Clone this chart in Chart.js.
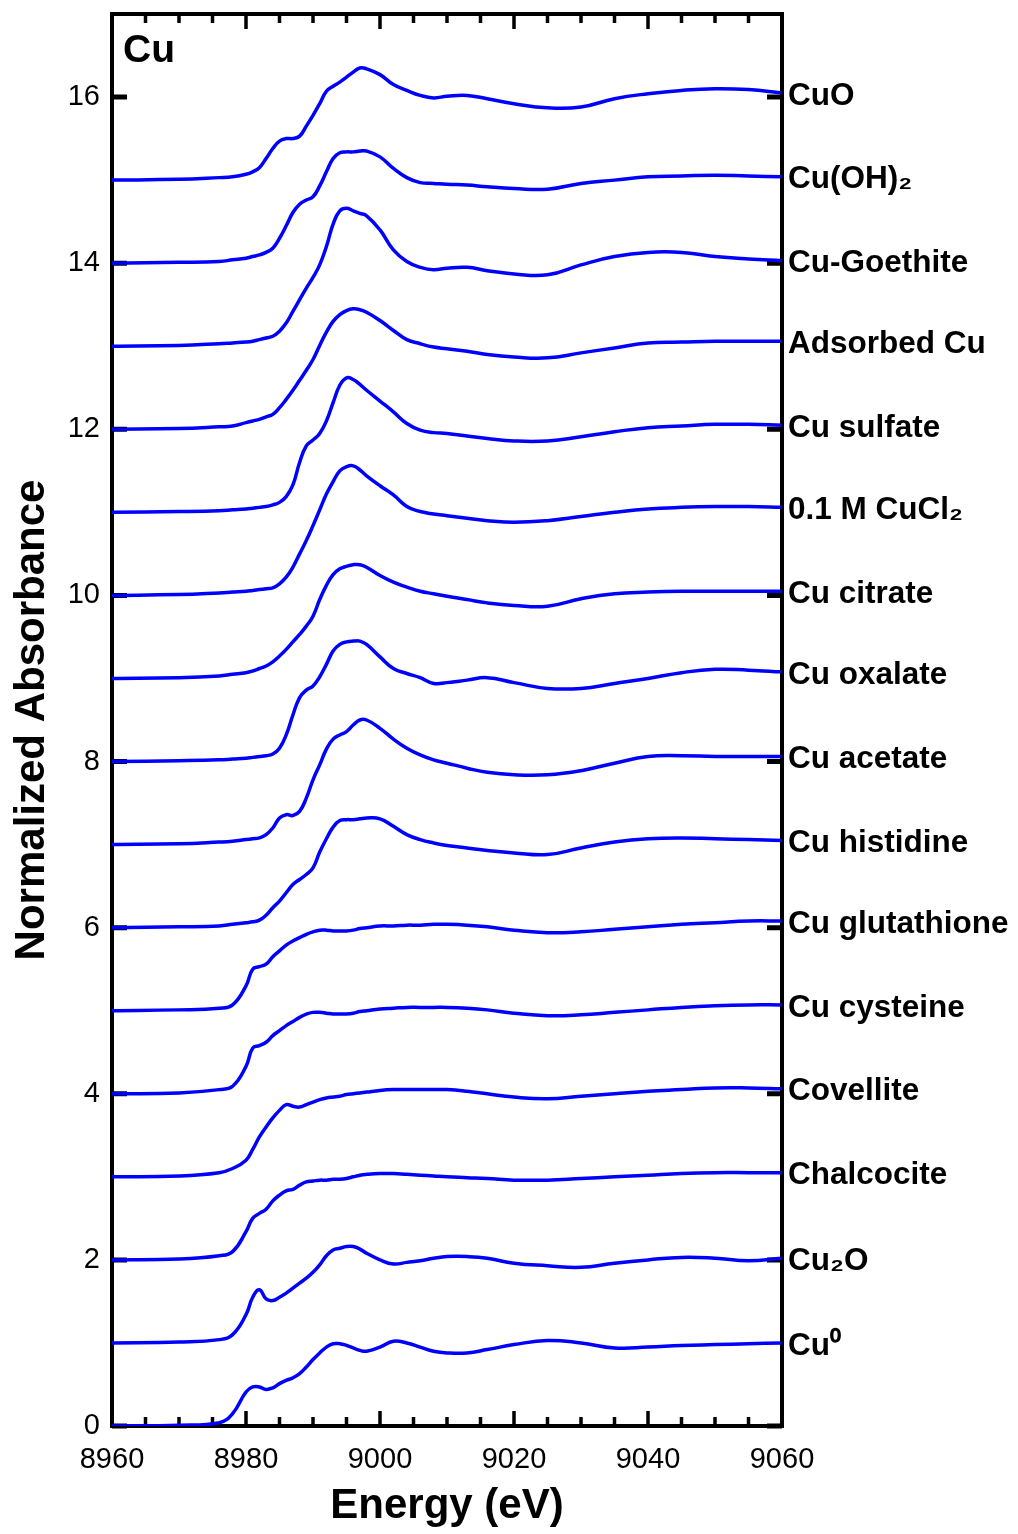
<!DOCTYPE html>
<html>
<head>
<meta charset="utf-8">
<title>Cu K-edge XANES</title>
<script src="https://cdn.jsdelivr.net/npm/chart.js@4.4.0/dist/chart.umd.min.js"></script>
<style>
  html, body { margin: 0; padding: 0; background: #fff; }
  #wrap { width: 1018px; height: 1534px; position: relative; }
</style>
</head>
<body>
<div id="wrap"><canvas id="xanes"></canvas></div>
<script>
// ——————————————————————————————
// Data (energy grid in eV, normalized absorbance without the stacking offset)
// ——————————————————————————————
const energy = [8960, 8970, 8976, 8978, 8980, 8981, 8982, 8983, 8984, 8985, 8986, 8987, 8988, 8989,
  8990, 8991, 8992, 8993, 8994, 8995, 8996, 8997, 8998, 9000, 9002, 9004, 9006, 9008, 9010,
  9013, 9016, 9020, 9025, 9030, 9035, 9040, 9045, 9050, 9055, 9060];

const cuMetal = [0, 0.01, 0.04, 0.15, 0.41, 0.47, 0.47, 0.44, 0.46, 0.51, 0.55, 0.58, 0.63, 0.71,
  0.80, 0.88, 0.95, 0.99, 0.99, 0.97, 0.94, 0.91, 0.90, 0.95, 1.02, 1.00, 0.95, 0.90, 0.88,
  0.88, 0.92, 0.98, 1.03, 1.00, 0.94, 0.95, 0.97, 0.98, 0.99, 1.00];
const cu2O = [0, 0.01, 0.04, 0.10, 0.34, 0.55, 0.64, 0.53, 0.51, 0.55, 0.60, 0.66, 0.72, 0.78,
  0.85, 0.94, 1.05, 1.12, 1.14, 1.16, 1.16, 1.13, 1.08, 1.00, 0.95, 0.97, 0.99, 1.02, 1.04,
  1.04, 1.02, 0.96, 0.93, 0.91, 0.96, 1.00, 1.03, 1.02, 0.99, 1.02];
const chalcocite = [0, 0.01, 0.05, 0.10, 0.34, 0.50, 0.56, 0.61, 0.71, 0.78, 0.83, 0.85, 0.90, 0.94,
  0.95, 0.96, 0.96, 0.97, 0.97, 0.98, 1.00, 1.02, 1.03, 1.04, 1.04, 1.03, 1.02, 1.01, 1.00,
  0.99, 0.98, 0.96, 0.96, 0.98, 1.00, 1.02, 1.04, 1.05, 1.05, 1.05];
const covellite = [0, 0.01, 0.05, 0.10, 0.20, 0.33, 0.48, 0.60, 0.71, 0.80, 0.87, 0.85, 0.84, 0.87,
  0.90, 0.93, 0.95, 0.96, 0.97, 0.99, 1.00, 1.01, 1.02, 1.04, 1.05, 1.05, 1.05, 1.05, 1.05,
  1.03, 1.00, 0.96, 0.94, 0.97, 1.00, 1.03, 1.05, 1.07, 1.07, 1.06];
const cuCysteine = [0, 0.01, 0.05, 0.09, 0.33, 0.55, 0.58, 0.62, 0.70, 0.76, 0.82, 0.87, 0.92, 0.96,
  0.98, 0.98, 0.97, 0.96, 0.96, 0.96, 0.97, 0.99, 1.00, 1.02, 1.03, 1.04, 1.04, 1.04, 1.04,
  1.03, 1.01, 0.97, 0.94, 0.95, 0.98, 1.01, 1.04, 1.06, 1.07, 1.07];
const cuGlutathione = [0, 0.01, 0.03, 0.07, 0.30, 0.50, 0.53, 0.56, 0.65, 0.72, 0.79, 0.84, 0.88, 0.92,
  0.95, 0.97, 0.97, 0.96, 0.96, 0.96, 0.97, 0.99, 1.00, 1.02, 1.02, 1.03, 1.03, 1.04, 1.04,
  1.03, 1.01, 0.97, 0.94, 0.95, 0.98, 1.01, 1.04, 1.06, 1.08, 1.08];
const cuHistidine = [0, 0.01, 0.02, 0.04, 0.06, 0.07, 0.09, 0.15, 0.24, 0.32, 0.42, 0.52, 0.58, 0.64,
  0.72, 0.91, 1.07, 1.21, 1.29, 1.30, 1.30, 1.31, 1.32, 1.31, 1.22, 1.12, 1.06, 1.02, 0.99,
  0.96, 0.93, 0.90, 0.88, 0.96, 1.03, 1.07, 1.08, 1.07, 1.06, 1.05];
const cuAcetate = [0, 0.01, 0.03, 0.04, 0.06, 0.07, 0.08, 0.12, 0.20, 0.32, 0.36, 0.35, 0.40, 0.56,
  0.78, 0.96, 1.15, 1.27, 1.32, 1.36, 1.44, 1.50, 1.50, 1.40, 1.27, 1.16, 1.08, 1.02, 0.98,
  0.92, 0.87, 0.84, 0.84, 0.89, 0.98, 1.06, 1.07, 1.06, 1.06, 1.06];
const cuOxalate = [0, 0.01, 0.02, 0.03, 0.04, 0.05, 0.06, 0.07, 0.09, 0.16, 0.32, 0.56, 0.77, 0.86,
  0.91, 1.02, 1.17, 1.33, 1.41, 1.44, 1.45, 1.45, 1.41, 1.26, 1.12, 1.06, 1.01, 0.94, 0.95,
  0.98, 1.01, 0.95, 0.88, 0.88, 0.94, 1.00, 1.07, 1.11, 1.10, 1.08];
const cuCitrate = [0, 0.01, 0.03, 0.05, 0.07, 0.09, 0.12, 0.15, 0.20, 0.27, 0.35, 0.44, 0.53, 0.63,
  0.75, 0.95, 1.12, 1.25, 1.32, 1.35, 1.37, 1.37, 1.34, 1.24, 1.16, 1.10, 1.05, 1.02, 0.99,
  0.95, 0.91, 0.88, 0.87, 0.96, 1.02, 1.04, 1.05, 1.05, 1.05, 1.05];
const cuCl2 = [0, 0.01, 0.03, 0.04, 0.05, 0.06, 0.07, 0.08, 0.09, 0.14, 0.22, 0.34, 0.50, 0.66,
  0.84, 1.03, 1.22, 1.37, 1.50, 1.55, 1.56, 1.51, 1.44, 1.32, 1.21, 1.07, 1.01, 0.98, 0.96,
  0.93, 0.90, 0.88, 0.90, 0.95, 1.00, 1.04, 1.06, 1.07, 1.07, 1.06];
const cuSulfate = [0, 0.01, 0.02, 0.03, 0.04, 0.05, 0.06, 0.07, 0.09, 0.12, 0.19, 0.33, 0.60, 0.80,
  0.87, 0.95, 1.10, 1.32, 1.53, 1.62, 1.60, 1.54, 1.47, 1.34, 1.21, 1.07, 0.99, 0.96, 0.95,
  0.92, 0.89, 0.86, 0.86, 0.91, 0.97, 1.02, 1.04, 1.06, 1.06, 1.05];
const adsorbedCu = [0, 0.01, 0.03, 0.04, 0.08, 0.10, 0.12, 0.15, 0.18, 0.26, 0.36, 0.47, 0.59, 0.71,
  0.84, 1.01, 1.17, 1.30, 1.38, 1.43, 1.45, 1.44, 1.41, 1.31, 1.19, 1.08, 1.03, 0.99, 0.97,
  0.94, 0.90, 0.87, 0.86, 0.92, 0.98, 1.04, 1.05, 1.06, 1.06, 1.06];
const cuGoethite = [0, 0.01, 0.03, 0.04, 0.05, 0.06, 0.08, 0.10, 0.12, 0.18, 0.28, 0.42, 0.56, 0.70,
  0.83, 0.98, 1.20, 1.47, 1.63, 1.66, 1.63, 1.60, 1.57, 1.40, 1.16, 1.02, 0.95, 0.92, 0.94,
  0.95, 0.91, 0.87, 0.86, 0.98, 1.08, 1.13, 1.13, 1.08, 1.05, 1.03];
const cuOH2 = [0, 0.01, 0.02, 0.04, 0.06, 0.08, 0.10, 0.13, 0.18, 0.30, 0.45, 0.61, 0.71, 0.76,
  0.80, 0.93, 1.10, 1.26, 1.33, 1.34, 1.34, 1.35, 1.35, 1.28, 1.14, 1.03, 0.97, 0.96, 0.95,
  0.94, 0.92, 0.90, 0.89, 0.96, 1.00, 1.04, 1.05, 1.06, 1.05, 1.04];
const cuO = [0, 0.01, 0.03, 0.04, 0.07, 0.10, 0.15, 0.26, 0.38, 0.47, 0.50, 0.50, 0.53, 0.65,
  0.78, 0.92, 1.07, 1.13, 1.18, 1.24, 1.30, 1.35, 1.34, 1.27, 1.15, 1.08, 1.02, 0.99, 1.01,
  1.02, 0.98, 0.92, 0.87, 0.88, 0.98, 1.04, 1.08, 1.10, 1.09, 1.05];

// bottom to top, each one stacked 1 unit above the previous
const sampleNames = ["Cu⁰", "Cu₂O", "Chalcocite", "Covellite", "Cu cysteine", "Cu glutathione",
  "Cu histidine", "Cu acetate", "Cu oxalate", "Cu citrate", "0.1 M CuCl₂", "Cu sulfate",
  "Adsorbed Cu", "Cu-Goethite", "Cu(OH)₂", "CuO"];
const spectra = [cuMetal, cu2O, chalcocite, covellite, cuCysteine, cuGlutathione, cuHistidine,
  cuAcetate, cuOxalate, cuCitrate, cuCl2, cuSulfate, adsorbedCu, cuGoethite, cuOH2, cuO];
const stackStep = 1;

const FONT = "'Liberation Sans', Arial, Helvetica, sans-serif";
const BLUE = "#0000ff";

// ——————————————————————————————
// Frame with inward ticks (drawn under the curves)
// ——————————————————————————————
const framePlugin = {
  id: "frame",
  beforeDatasetsDraw(chart) {
    const { ctx, chartArea: a, scales: { x, y } } = chart;
    ctx.save();
    ctx.strokeStyle = "#000";
    ctx.lineWidth = 4;
    ctx.strokeRect(a.left, a.top, a.right - a.left, a.bottom - a.top);

    ctx.lineWidth = 3.5;
    ctx.beginPath();
    for (let e = x.min; e <= x.max; e += 5) {
      const px = x.getPixelForValue(e);
      const len = (e - x.min) % 20 === 0 ? 15 : 9;
      ctx.moveTo(px, a.bottom); ctx.lineTo(px, a.bottom - len);
      ctx.moveTo(px, a.top); ctx.lineTo(px, a.top + len);
    }
    ctx.stroke();

    ctx.lineWidth = 5;
    ctx.beginPath();
    y.ticks.forEach(t => {
      const py = y.getPixelForValue(t.value);
      ctx.moveTo(a.left, py); ctx.lineTo(a.left + 15, py);
      ctx.moveTo(a.right, py); ctx.lineTo(a.right - 15, py);
    });
    ctx.stroke();
    ctx.restore();
  }
};

// ——————————————————————————————
// Sample names at the right end of each curve + element tag
// ——————————————————————————————
const labelPlugin = {
  id: "labels",
  afterDatasetsDraw(chart) {
    const { ctx, chartArea: a, scales: { y } } = chart;
    ctx.save();
    ctx.fillStyle = "#000";
    ctx.font = "bold 31.5px " + FONT;
    ctx.textAlign = "left";
    ctx.textBaseline = "middle";
    spectra.forEach((mu, i) => {
      const endVal = mu[mu.length - 1] + i * stackStep;
      ctx.fillText(sampleNames[i], a.right + 6, y.getPixelForValue(endVal) + 3);
    });
    ctx.font = "bold 39px " + FONT;
    ctx.textBaseline = "alphabetic";
    ctx.fillText("Cu", a.left + 11, a.top + 48);
    ctx.restore();
  }
};

const datasets = spectra.map((mu, i) => ({
  label: sampleNames[i],
  data: energy.map((e, j) => ({ x: e, y: mu[j] + i * stackStep })),
  borderColor: BLUE,
  borderWidth: 3.5,
  pointRadius: 0,
  fill: false,
  tension: 0.45
}));

new Chart(document.getElementById("xanes"), {
  type: "line",
  data: { datasets },
  plugins: [framePlugin, labelPlugin],
  options: {
    responsive: true,
    maintainAspectRatio: false,
    animation: false,
    layout: { padding: { left: 0, top: 14, right: 236, bottom: 0 } },
    plugins: { legend: { display: false }, tooltip: { enabled: false } },
    scales: {
      x: {
        type: "linear",
        min: 8960,
        max: 9060,
        grid: { display: false, drawTicks: false, tickLength: 0 },
        border: { display: false },
        ticks: {
          stepSize: 20, color: "#000", padding: 17, maxRotation: 0,
          font: { family: FONT, size: 29 },
          callback: v => String(v)
        },
        title: {
          display: true, text: "Energy (eV)", color: "#000",
          font: { family: FONT, size: 42, weight: "bold" }, padding: { top: 0, bottom: 2 }
        },
        afterFit(s) { s.height = 108; s.paddingLeft = 0; s.paddingRight = 0; }
      },
      y: {
        type: "linear",
        min: 0,
        max: 17,
        grid: { display: false, drawTicks: false, tickLength: 0 },
        border: { display: false },
        ticks: { stepSize: 2, includeBounds: false, color: "#000", padding: 12, font: { family: FONT, size: 29 } },
        title: {
          display: true, text: "Normalized Absorbance", color: "#000",
          font: { family: FONT, size: 42, weight: "bold" }, padding: { top: 7, bottom: 0 }
        },
        afterFit(s) { s.width = 112; s.paddingTop = 0; s.paddingBottom = 0; }
      }
    }
  }
});
</script>
</body>
</html>
